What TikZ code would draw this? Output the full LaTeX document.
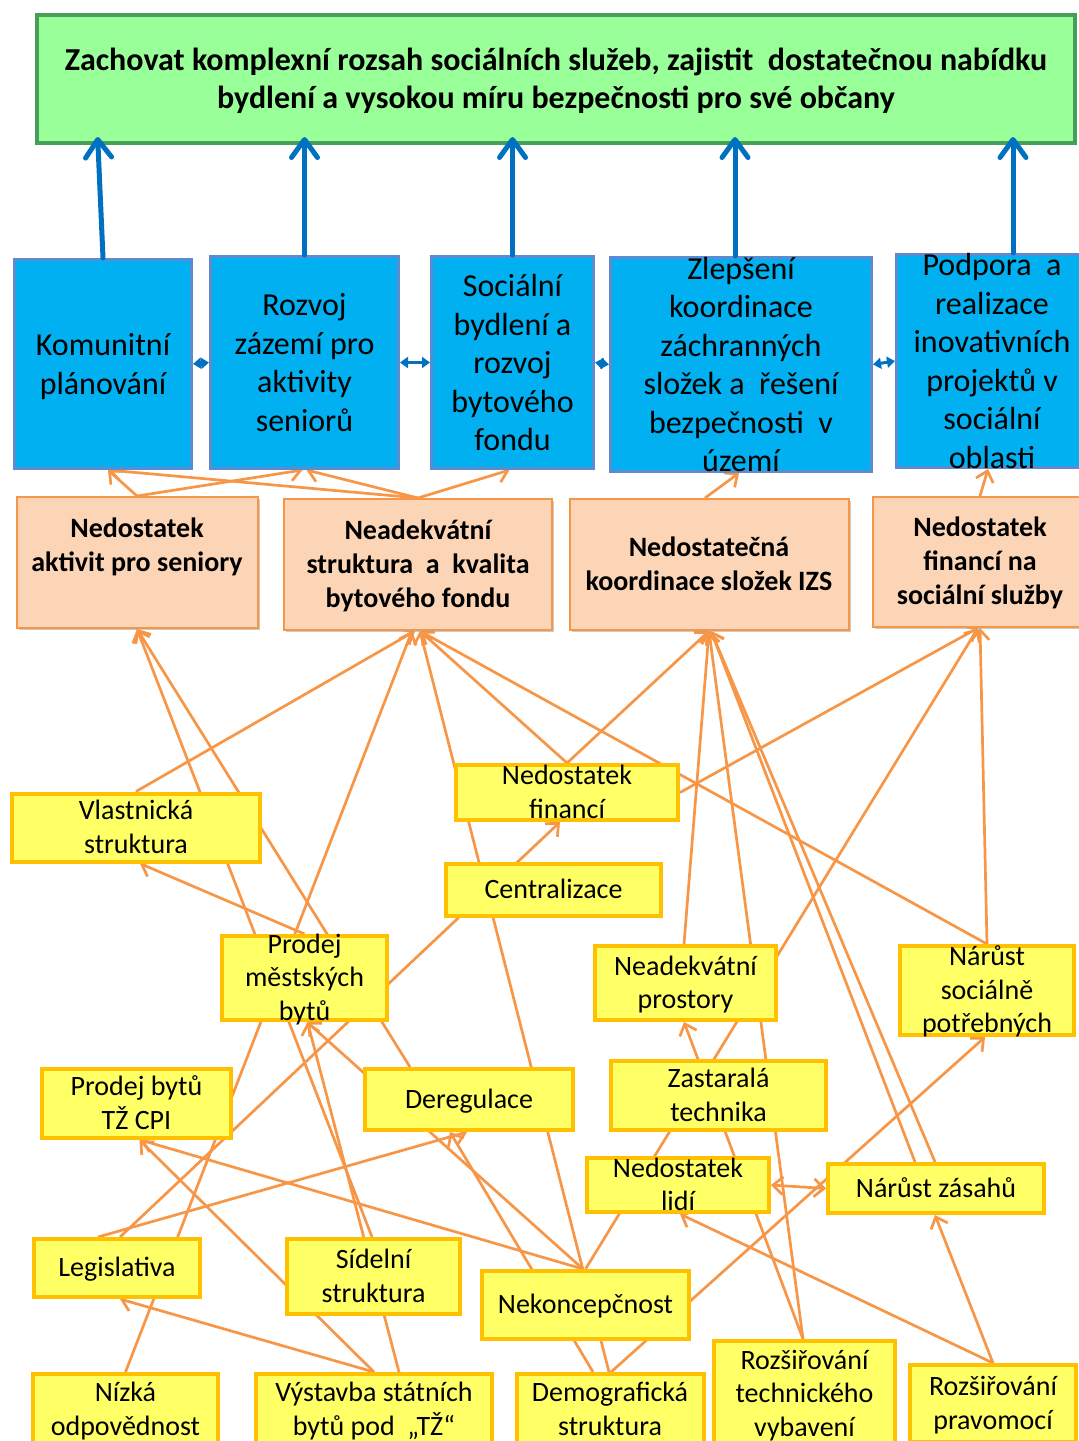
\documentclass[tikz,border=0pt]{standalone}
\usepackage{fontspec}
\setmainfont{Carlito}
\usetikzlibrary{arrows.meta,backgrounds,shadows,calc}
\definecolor{goalfill}{HTML}{99FF99}
\definecolor{goalline}{HTML}{46A05A}
\definecolor{aimfill}{HTML}{00B0F0}
\definecolor{aimline}{HTML}{5B8BD0}
\definecolor{upline}{HTML}{0070C0}
\definecolor{probfill}{HTML}{FBD5B5}
\definecolor{probline}{HTML}{F79646}
\definecolor{causefill}{HTML}{FFFF66}
\definecolor{causeline}{HTML}{FFC000}
\definecolor{linkline}{HTML}{F79646}
\newcommand{\mlines}[1]{\raisebox{-.3em}[0pt][0pt]{\begin{tabular}{@{}c@{}}#1\end{tabular}}}
\tikzset{>={Straight Barb[length=10pt,width=18pt]}}
\begin{document}
\begin{tikzpicture}[x=1pt,y=-1pt,
  goal/.style={draw=goalline, fill=goalfill, line width=4pt, inner sep=0pt, font=\fontsize{32}{38}\selectfont\bfseries},
  aim/.style={draw=aimline, fill=aimfill, line width=3pt, inner sep=0pt, font=\fontsize{32}{38.5}\selectfont},
  problem/.style={draw=probline, fill=probfill, line width=2pt, inner sep=0pt, drop shadow={shadow xshift=2pt,shadow yshift=-2pt,fill=black!35,opacity=.6}, font=\fontsize{28}{34}\selectfont\bfseries},
  cause/.style={draw=causeline, fill=causefill, line width=4pt, inner sep=0pt, font=\fontsize{28}{33.5}\selectfont},
  link/.style={draw=linkline, line width=2.7pt, ->},
  up/.style={draw=upline, line width=5pt, line cap=round, -{Straight Barb[length=18pt,width=26pt,round]}, shorten >=-8pt},
  twin/.style={draw=upline, line width=3pt, {Triangle[length=8pt,width=11pt]}-{Triangle[length=8pt,width=11pt]}}]
\useasboundingbox (0,0) rectangle (1079,1441);
\node[goal, minimum width=1038, minimum height=128] (goal) at (556,79){\mlines{Zachovat komplexní rozsah sociálních služeb, zajistit\ \ dostatečnou nabídku\\bydlení a vysokou míru bezpečnosti pro své občany}};
\node[aim, minimum width=177, minimum height=209] (b1) at (103,364){\mlines{Komunitní\\plánování}};
\node[aim, minimum width=188, minimum height=212] (b2) at (304.5,362.5){\mlines{Rozvoj\\zázemí pro\\aktivity\\seniorů}};
\node[aim, minimum width=162, minimum height=212] (b3) at (512.5,362.5){\mlines{Sociální\\bydlení a\\rozvoj\\bytového\\fondu}};
\node[aim, minimum width=261, minimum height=214] (b4) at (741,364.5){\mlines{Zlepšení\\koordinace\\záchranných\\složek a\ \ řešení\\bezpečnosti\ \ v\\území}};
\node[aim, minimum width=191, minimum height=213] (b5) at (992,361){\mlines{Podpora\ \ a\\realizace\\inovativních\\projektů v\\sociální\\oblasti}};
\node[problem, minimum width=241, minimum height=131] (pa) at (137,562.5){\mlines{Nedostatek\\aktivit pro seniory\\~}};
\node[problem, minimum width=268, minimum height=131] (pb) at (418,564.5){\mlines{Neadekvátní\\struktura\ \ a\ \ kvalita\\bytového fondu}};
\node[problem, minimum width=279, minimum height=131] (pc) at (709,564.5){\mlines{Nedostatečná\\koordinace složek IZS}};
\node[problem, minimum width=214, minimum height=130] (pd) at (980,562){\mlines{Nedostatek\\financí na\\sociální služby}};
\node[cause, minimum width=248, minimum height=68] (vlas) at (136,827.5){\mlines{Vlastnická\\struktura}};
\node[cause, minimum width=222, minimum height=55] (fin) at (567,792.5){\mlines{Nedostatek\\financí}};
\node[cause, minimum width=215, minimum height=52] (cen) at (553.5,890){\mlines{Centralizace}};
\node[cause, minimum width=165, minimum height=84] (pmb) at (304.5,978){\mlines{Prodej\\městských\\bytů}};
\node[cause, minimum width=181, minimum height=74] (npr) at (685.5,983){\mlines{Neadekvátní\\prostory}};
\node[cause, minimum width=174, minimum height=89] (nsp) at (987,990.5){\mlines{Nárůst\\sociálně\\potřebných}};
\node[cause, minimum width=189, minimum height=69] (pcpi) at (136.5,1103.5){\mlines{Prodej bytů\\TŽ CPI}};
\node[cause, minimum width=208, minimum height=61] (dereg) at (469,1099.5){\mlines{Deregulace}};
\node[cause, minimum width=215, minimum height=69] (zast) at (718.5,1095.5){\mlines{Zastaralá\\technika}};
\node[cause, minimum width=182, minimum height=54] (nlid) at (678,1185){\mlines{Nedostatek\\lidí}};
\node[cause, minimum width=216, minimum height=49] (nzas) at (936,1188.5){\mlines{Nárůst zásahů}};
\node[cause, minimum width=166, minimum height=58] (leg) at (117,1268){\mlines{Legislativa}};
\node[cause, minimum width=173, minimum height=75] (sid) at (373.5,1276.5){\mlines{Sídelní\\struktura}};
\node[cause, minimum width=207, minimum height=68] (nek) at (585.5,1305){\mlines{Nekoncepčnost}};
\node[cause, minimum width=185, minimum height=71] (niz) at (125.5,1409.5){\mlines{Nízká\\odpovědnost}};
\node[cause, minimum width=236, minimum height=71] (vys) at (374,1409.5){\mlines{Výstavba státních\\bytů pod\ \ „TŽ“}};
\node[cause, minimum width=187, minimum height=71] (dem) at (610,1409.5){\mlines{Demografická\\struktura}};
\node[cause, minimum width=181, minimum height=106] (rtv) at (804.5,1394){\mlines{Rozšiřování\\technického\\vybavení}};
\node[cause, minimum width=166, minimum height=77] (rpr) at (993,1403.5){\mlines{Rozšiřování\\pravomocí}};
\draw[up](b1.north) -- ($(b1.north |- goal.south)+(-5,0)$);
\draw[up](b2.north) -- (b2.north |- goal.south);
\draw[up](b3.north) -- (b3.north |- goal.south);
\draw[up]([xshift=-6]b4.north) -- ($(b4.north |- goal.south)+(-6,0)$);
\draw[up]([xshift=21]b5.north) -- ($(b5.north |- goal.south)+(21,0)$);
\draw[twin](b1.east) -- (b2.west);
\draw[twin](b2.east) -- (b3.west);
\draw[twin](b3.east) -- (b4.west);
\draw[twin](b4.east) -- (b5.west);
\begin{pgfonlayer}{background}
\draw[link](pa.north) -- ([xshift=5]b1.south);
\draw[link](pa.north) -- ([xshift=-2]b2.south);
\draw[link](pb.north) -- ([xshift=5]b1.south);
\draw[link](pb.north) -- ([xshift=2]b2.south);
\draw[link](pb.north) -- ([xshift=-3]b3.south);
\draw[link]([xshift=-4]pc.north) -- ([xshift=-2]b4.south);
\draw[link](pd.north) -- ([xshift=-4]b5.south);
\draw[link](vlas.north) -- ([xshift=-3]pb.south);
\draw[link]([xshift=-1.5]sid.north) -- (pa.south);
\draw[link]([xshift=-59]dereg.north) -- (pa.south);
\draw[link](pmb.north) -- ([xshift=4]vlas.south);
\draw[link](niz.north) -- ([xshift=-6]pb.south);
\draw[link]([xshift=-1]dem.north) -- ([xshift=2]pb.south);
\draw[link](fin.north) -- ([xshift=2]pb.south);
\draw[link](nsp.north) -- ([xshift=2]pb.south);
\draw[link](fin.north) -- (pc.south);
\draw[link]([xshift=-1.5]npr.north) -- (pc.south);
\draw[link]([xshift=-1.5]rtv.north) -- (pc.south);
\draw[link]([xshift=-21]nzas.north) -- ([xshift=2]pc.south);
\draw[link]([xshift=-1]nzas.north) -- ([xshift=2]pc.south);
\draw[link](fin.east) -- ([xshift=-2]pd.south);
\draw[link](nek.north) -- ([xshift=-2]pd.south);
\draw[link](nsp.north) -- (pd.south);
\draw[link]([xshift=3]leg.north) -- ([xshift=-7]fin.south);
\draw[link]([xshift=-2.5]nek.north) -- ([xshift=4]pcpi.south);
\draw[link](vys.north) -- ([xshift=3]pcpi.south);
\draw[link]([xshift=-19]leg.north) -- ([xshift=-2]dereg.south);
\draw[link]([xshift=-2.5]nek.north) -- ([xshift=2.5]pmb.south);
\draw[link]([xshift=25]vys.north) -- ([xshift=3]pmb.south);
\draw[link](vys.north) -- ([xshift=3]leg.south);
\draw[link]([xshift=-17]dem.north) -- ([xshift=-19]dereg.south);
\draw[link]([xshift=1]dem.north) -- ([xshift=-2]nsp.south);
\draw[link]([xshift=-1.5]rtv.north) -- ([xshift=-1.5]npr.south);
\draw[link](rpr.north) -- ([xshift=-1]nzas.south);
\draw[link](rpr.north) -- ([xshift=2]nlid.south);
\draw[link, <->](nlid.east) -- (nzas.west);
\end{pgfonlayer}
\end{tikzpicture}
\end{document}
